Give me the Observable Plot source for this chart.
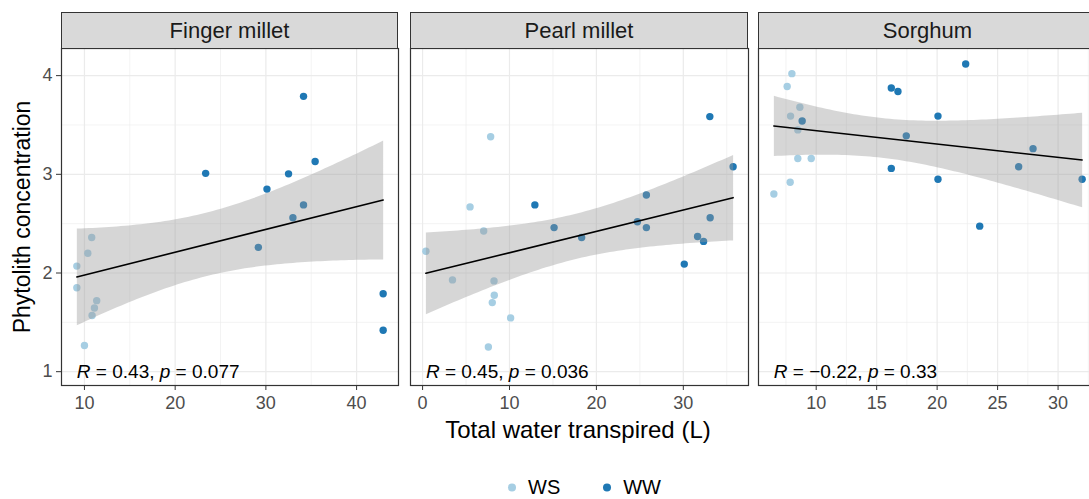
<!DOCTYPE html>
<html>
<head>
<meta charset="utf-8">
<script src="https://cdn.jsdelivr.net/npm/d3@7"></script>
<script src="https://cdn.jsdelivr.net/npm/@observablehq/plot@0.6"></script>
<style>
  html, body { margin: 0; padding: 0; background: white; overflow: hidden; }
  #root { position: relative; width: 1089px; height: 499px; overflow: hidden; background: white;
          font-family: "Liberation Sans", Arial, Helvetica, sans-serif; }
  .strip { position: absolute; box-sizing: border-box; border: 1.2px solid #333; background: #d9d9d9;
           color: #1a1a1a; font-size: 22px; display: flex; align-items: center; justify-content: center; }
  svg.plot { overflow: visible; }
</style>
</head>
<body>
<div id="root"></div>
<script>
// ---------- data ----------
const panelNames = ["Finger millet", "Pearl millet", "Sorghum"];
const treatments = ["WS", "WW"];
const treatmentColors = ["#a6cee3", "#1f78b4"];
const yTicks = [1, 2, 3, 4];
const statLabels = ["R = 0.43, p = 0.077", "R = 0.45, p = 0.036", "R = −0.22, p = 0.33"];
const xTicksByPanel = [[10, 20, 30, 40], [0, 10, 20, 30], [10, 15, 20, 25, 30]];
const xMinorByPanel = [[15, 25, 35], [5, 15, 25, 35], [7.5, 12.5, 17.5, 22.5, 27.5, 32.5]];
const yMinor = [1.5, 2.5, 3.5];

// Finger millet
const fingerWS_x = [10.8, 10.37, 9.16, 9.16, 11.35, 11.1, 10.84, 10.0];
const fingerWS_y = [2.36, 2.20, 2.07, 1.85, 1.72, 1.645, 1.57, 1.265];
const fingerWW_x = [34.15, 23.36, 35.43, 32.5, 30.12, 34.15, 32.98, 29.17, 42.93, 42.93];
const fingerWW_y = [3.79, 3.01, 3.13, 3.005, 2.85, 2.69, 2.56, 2.26, 1.79, 1.42];
// Pearl millet
const pearlWS_x = [7.83, 5.46, 7.03, 0.38, 3.44, 8.22, 8.25, 8.02, 10.13, 7.57];
const pearlWS_y = [3.38, 2.67, 2.425, 2.22, 1.93, 1.92, 1.775, 1.70, 1.545, 1.25];
const pearlWW_x = [33.05, 35.73, 12.92, 25.75, 15.13, 18.3, 24.72, 25.75, 33.09, 31.64, 32.33, 30.11];
const pearlWW_y = [3.585, 3.076, 2.69, 2.79, 2.46, 2.36, 2.52, 2.46, 2.56, 2.37, 2.32, 2.09];
// Sorghum
const sorghumWS_x = [7.99, 7.6, 8.65, 7.88, 8.48, 8.48, 9.59, 7.85, 6.5];
const sorghumWS_y = [4.02, 3.89, 3.68, 3.59, 3.45, 3.16, 3.16, 2.92, 2.80];
const sorghumWW_x = [22.36, 16.21, 16.76, 20.07, 8.84, 17.45, 27.93, 26.74, 16.21, 20.07, 31.99, 23.52];
const sorghumWW_y = [4.118, 3.875, 3.84, 3.59, 3.54, 3.39, 3.26, 3.076, 3.06, 2.95, 2.95, 2.475];

const wsX = [fingerWS_x, pearlWS_x, sorghumWS_x];
const wsY = [fingerWS_y, pearlWS_y, sorghumWS_y];
const wwX = [fingerWW_x, pearlWW_x, sorghumWW_x];
const wwY = [fingerWW_y, pearlWW_y, sorghumWW_y];

// ---------- layout ----------
const root = document.getElementById("root");
const panelTop = 48, panelBottom = 385;
const panelLeft = [61, 410, 758];
const panelWidth = [337, 338, 339];
const yDomain = [0.86, 4.275];
const xDomains = [[7.47, 44.62], [-1.39, 37.5], [5.23, 33.26]];
const font = '"Liberation Sans", Arial, Helvetica, sans-serif';

panelNames.forEach((name, i) => {
  const rows = [];
  wsX[i].forEach((x, k) => rows.push({x, y: wsY[i][k], t: treatments[0]}));
  wwX[i].forEach((x, k) => rows.push({x, y: wwY[i][k], t: treatments[1]}));
  const xmin = d3.min(rows, d => d.x);
  const mLeft = i === 0 ? panelLeft[0] : 0;
  const marks = [
    Plot.ruleX(xMinorByPanel[i], {stroke: "#ebebeb", strokeWidth: 0.6}),
    Plot.ruleY(yMinor, {stroke: "#ebebeb", strokeWidth: 0.6}),
    Plot.ruleX(xTicksByPanel[i], {stroke: "#ebebeb", strokeWidth: 1.2}),
    Plot.ruleY(yTicks, {stroke: "#ebebeb", strokeWidth: 1.2}),
    Plot.dot(rows, {x: "x", y: "y", fill: "t", r: 3.7}),
    Plot.linearRegressionY(rows, {x: "x", y: "y", stroke: "black", strokeWidth: 1.6, fill: "#999999", fillOpacity: 0.4, ci: 0.95}),
    Plot.text([{x: xmin, y: 1, label: statLabels[i]}], {x: "x", y: "y", text: "label", textAnchor: "start", fontSize: 19, fill: "black", className: "statlab"}),
    Plot.frame({stroke: "#333", strokeWidth: 1.2}),
    Plot.axisX(xTicksByPanel[i], {tickSize: 5, tickPadding: 6, fontSize: 18, stroke: "#333", fill: "#4d4d4d", label: null, tickFormat: d => String(d)})
  ];
  if (i === 0) marks.push(Plot.axisY(yTicks, {tickSize: 5, tickPadding: 4, fontSize: 18, stroke: "#333", fill: "#4d4d4d", label: null, tickFormat: d => String(d)}));
  const plot = Plot.plot({
    width: mLeft + panelWidth[i],
    height: (panelBottom - panelTop) + 40,
    marginLeft: mLeft, marginRight: 0, marginTop: 0, marginBottom: 40,
    style: {fontFamily: font, background: "transparent", overflow: "visible"},
    x: {domain: xDomains[i], label: null, axis: null},
    y: {domain: yDomain, label: null, axis: null},
    color: {domain: treatments, range: treatmentColors},
    marks
  });
  plot.style.position = "absolute";
  plot.style.left = (i === 0 ? 0 : panelLeft[i]) + "px";
  plot.style.top = panelTop + "px";
  plot.style.maxWidth = "none";
  // italic R and p
  const t = plot.querySelector(".statlab text");
  if (t) {
    const parts = statLabels[i].split(/(R|p)(?= =)/);
    t.textContent = "";
    parts.forEach(s => {
      if (!s) return;
      const ts = document.createElementNS("http://www.w3.org/2000/svg", "tspan");
      if (s === "R" || s === "p") ts.setAttribute("font-style", "italic");
      ts.textContent = s;
      t.appendChild(ts);
    });
  }
  root.appendChild(plot);

  const strip = document.createElement("div");
  strip.className = "strip";
  strip.style.left = panelLeft[i] + "px";
  strip.style.top = "12px";
  strip.style.width = panelWidth[i] + "px";
  strip.style.height = (panelTop - 12 + 1) + "px";
  strip.textContent = name;
  root.appendChild(strip);
});

// axis titles
const xt = document.createElement("div");
xt.style.cssText = `position:absolute;left:578px;top:430px;transform:translate(-50%,-50%);white-space:nowrap;font-size:24px;color:#000;`;
xt.textContent = "Total water transpired (L)";
root.appendChild(xt);

const yt = document.createElement("div");
yt.style.cssText = `position:absolute;left:22px;top:${(panelTop + panelBottom) / 2}px;transform:translate(-50%,-50%) rotate(-90deg);white-space:nowrap;font-size:23px;color:#000;`;
yt.textContent = "Phytolith concentration";
root.appendChild(yt);

// legend
const lg = document.createElement("div");
lg.style.cssText = "position:absolute;left:0;top:487px;width:1089px;font-size:20px;color:#000;";
const lgInner = document.createElement("div");
lgInner.style.cssText = "position:absolute;left:505px;top:0;display:flex;align-items:center;white-space:nowrap;transform:translateY(-50%);";
treatments.forEach((tr, k) => {
  const item = document.createElement("span");
  item.style.cssText = `display:inline-flex;align-items:center;margin-right:${k === 0 ? 40 : 0}px;`;
  item.innerHTML = `<svg width="14" height="14"><circle cx="7" cy="7" r="4" fill="${treatmentColors[k]}"/></svg><span style="margin-left:9px">${tr}</span>`;
  lgInner.appendChild(item);
});
lg.appendChild(lgInner);
root.appendChild(lg);
</script>
</body>
</html>
